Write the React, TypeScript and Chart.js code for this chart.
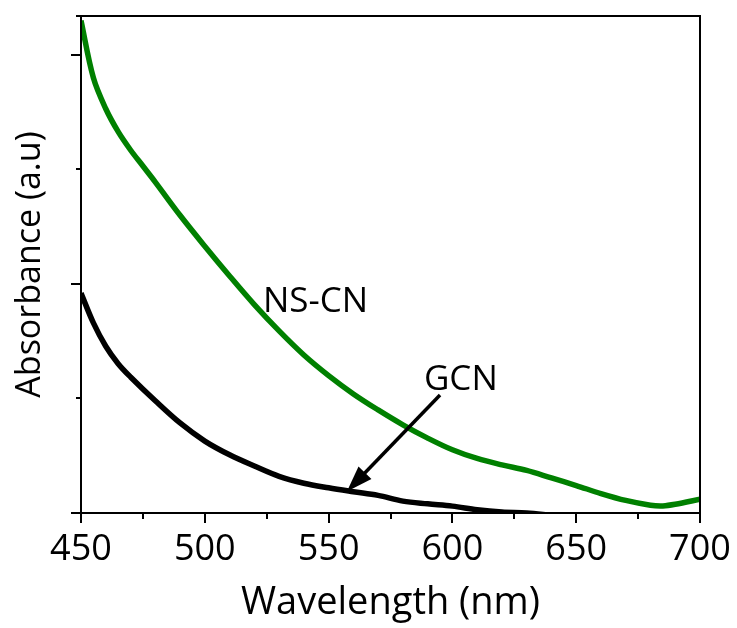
import React, { useEffect, useRef } from 'react';
import { Chart, registerables } from 'chart.js';

Chart.register(...registerables);

// ---- Data ----
const wavelengthsNSCN = [450, 455, 460, 465, 470, 475, 480, 490, 500, 510, 520, 530, 540, 550, 560, 570, 580, 590, 600, 610, 620, 630, 640, 650, 660, 670, 680, 685, 690, 700];
const absorbanceNSCN = [2.15, 1.9, 1.765, 1.665, 1.585, 1.515, 1.445, 1.3, 1.165, 1.035, 0.91, 0.795, 0.69, 0.6, 0.52, 0.45, 0.385, 0.327, 0.276, 0.238, 0.21, 0.186, 0.153, 0.12, 0.085, 0.055, 0.034, 0.031, 0.038, 0.06];

const wavelengthsGCN = [450, 455, 460, 465, 470, 480, 490, 500, 510, 520, 530, 540, 550, 560, 570, 580, 590, 600, 610, 620, 630, 640];
const absorbanceGCN = [0.96, 0.83, 0.728, 0.652, 0.594, 0.49, 0.393, 0.314, 0.254, 0.205, 0.16, 0.13, 0.11, 0.093, 0.077, 0.052, 0.04, 0.03, 0.014, 0.004, 0.0, -0.01];

const xTickMin = 450;
const xTickMax = 700;
const xMajorStep = 50;
const xMinorStep = 25;
const yMin = 0;
const yMax = 2.17;
const yMinorStep = 0.5;
const yMajorStep = 1;

const seriesLabels = ['NS-CN', 'GCN'];
const xTitle = 'Wavelength (nm)';
const yTitle = 'Absorbance (a.u)';

// annotation anchors in data coordinates
const labelNSCN = { text: 'NS-CN', x: 523.5, y: 0.878 };
const labelGCN = { text: 'GCN', x: 588.5, y: 0.537 };
const arrowGCN = { fromX: 595.0, fromY: 0.515, toX: 557.4, toY: 0.094 };

const FONT = '"Open Sans", "Noto Sans", sans-serif';

const framePlugin = {
  id: 'frameTicksAnnotations',
  afterDraw(chart: any) {
    const { ctx, chartArea: a, scales } = chart;
    const xs = scales.x;
    const ys = scales.y;
    ctx.save();
    ctx.strokeStyle = '#000';
    ctx.fillStyle = '#000';
    ctx.lineWidth = 2;
    ctx.lineCap = 'butt';
    // frame
    ctx.strokeRect(a.left, a.top, a.right - a.left, a.bottom - a.top);
    // x ticks
    xs.ticks.forEach((t: any) => {
      const px = Math.round(xs.getPixelForValue(t.value));
      const major = Math.abs(t.value % xMajorStep) < 1e-6;
      const len = major ? 10 : 6;
      ctx.beginPath();
      ctx.moveTo(px, a.bottom);
      ctx.lineTo(px, a.bottom + len);
      ctx.stroke();
    });
    // y ticks
    ys.ticks.forEach((t: any) => {
      const py = Math.round(ys.getPixelForValue(t.value));
      const major = Math.abs(t.value % yMajorStep) < 1e-6;
      const len = major ? 10 : 5;
      ctx.beginPath();
      ctx.moveTo(a.left, py);
      ctx.lineTo(a.left - len, py);
      ctx.stroke();
    });

    // annotations
    ctx.font = `35px ${FONT}`;
    ctx.textBaseline = 'alphabetic';
    ctx.textAlign = 'left';
    ctx.fillText(labelNSCN.text, xs.getPixelForValue(labelNSCN.x), ys.getPixelForValue(labelNSCN.y));
    ctx.fillText(labelGCN.text, xs.getPixelForValue(labelGCN.x), ys.getPixelForValue(labelGCN.y));

    const x0 = xs.getPixelForValue(arrowGCN.fromX);
    const y0 = ys.getPixelForValue(arrowGCN.fromY);
    const x1 = xs.getPixelForValue(arrowGCN.toX);
    const y1 = ys.getPixelForValue(arrowGCN.toY);
    const ang = Math.atan2(y1 - y0, x1 - x0);
    const headLen = 26;
    const headHalf = 9;
    const bx = x1 - headLen * Math.cos(ang);
    const by = y1 - headLen * Math.sin(ang);
    ctx.lineWidth = 3.5;
    ctx.beginPath();
    ctx.moveTo(x0, y0);
    ctx.lineTo(bx + 2 * Math.cos(ang), by + 2 * Math.sin(ang));
    ctx.stroke();
    ctx.beginPath();
    ctx.moveTo(x1, y1);
    ctx.lineTo(bx + headHalf * Math.sin(ang), by - headHalf * Math.cos(ang));
    ctx.lineTo(bx - headHalf * Math.sin(ang), by + headHalf * Math.cos(ang));
    ctx.closePath();
    ctx.fill();
    ctx.restore();
  },
};

export default function App() {
  const canvasRef = useRef<HTMLCanvasElement | null>(null);

  useEffect(() => {
    document.body.style.margin = '0';
    const canvas = canvasRef.current;
    if (!canvas) return;
    Chart.defaults.font.family = FONT;
    Chart.defaults.color = '#000';

    const chart = new Chart(canvas, {
      type: 'line',
      data: {
        datasets: [
          {
            label: seriesLabels[0],
            data: wavelengthsNSCN.map((w, i) => ({ x: w, y: absorbanceNSCN[i] })),
            borderColor: '#008000',
            borderWidth: 5.5,
            pointRadius: 0,
            tension: 0.35,
            fill: false,
          },
          {
            label: seriesLabels[1],
            data: wavelengthsGCN.map((w, i) => ({ x: w, y: absorbanceGCN[i] })),
            borderColor: '#000000',
            borderWidth: 5.5,
            pointRadius: 0,
            tension: 0.35,
            fill: false,
          },
        ],
      },
      options: {
        responsive: false,
        animation: false,
        maintainAspectRatio: false,
        layout: { padding: { top: 16, right: 37, left: 0, bottom: 0 } },
        plugins: {
          legend: { display: false },
          tooltip: { enabled: false },
        },
        scales: {
          x: {
            type: 'linear',
            min: xTickMin,
            max: xTickMax,
            grid: { display: false, drawTicks: false },
            border: { display: false },
            ticks: {
              stepSize: xMinorStep,
              autoSkip: false,
              maxRotation: 0,
              padding: 15,
              font: { size: 36, family: FONT },
              color: '#000',
              callback: (v: any) => (Math.abs(Number(v) % xMajorStep) < 1e-6 ? String(v) : ''),
            },
            title: {
              display: true,
              text: xTitle,
              font: { size: 38, family: FONT },
              color: '#000',
              padding: { top: 0, bottom: 2 },
            },
            afterFit: (scale: any) => {
              scale.height = 115;
              scale.paddingLeft = 0;
              scale.paddingRight = 0;
            },
          },
          y: {
            type: 'linear',
            min: yMin,
            max: yMax,
            grid: { display: false, drawTicks: false },
            border: { display: false },
            ticks: {
              stepSize: yMinorStep,
              callback: () => '',
            },
            title: {
              display: true,
              text: yTitle,
              font: { size: 34, family: FONT },
              color: '#000',
              padding: { top: 10, bottom: 0 },
            },
            afterFit: (scale: any) => {
              scale.width = 81;
              scale.paddingTop = 0;
              scale.paddingBottom = 0;
            },
          },
        },
      },
      plugins: [framePlugin],
    } as any);

    return () => chart.destroy();
  }, []);

  return (
    <div style={{ position: 'relative', width: 737, height: 628 }}>
      <canvas ref={canvasRef} width={737} height={628} />
    </div>
  );
}
